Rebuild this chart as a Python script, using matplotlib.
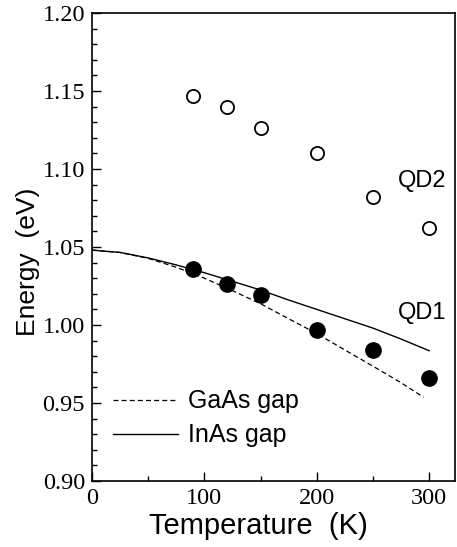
import matplotlib
matplotlib.use("Agg")
import matplotlib.pyplot as plt
from matplotlib.ticker import MultipleLocator, FormatStrFormatter

# Data
T_qd = [90, 120, 150, 200, 250, 300]
E_qd2 = [1.147, 1.140, 1.126, 1.110, 1.082, 1.062]
E_qd1 = [1.036, 1.026, 1.019, 0.997, 0.984, 0.966]

T_inas = [0, 25, 50, 75, 100, 125, 150, 175, 200, 225, 250, 275, 300]
E_inas = [1.048, 1.0465, 1.043, 1.0385, 1.0335, 1.028, 1.0224, 1.016, 1.010, 1.004, 0.998, 0.991, 0.9835]
T_gaas = [0, 25, 50, 75, 100, 125, 150, 175, 200, 225, 250, 275, 295]
E_gaas = [1.048, 1.0465, 1.0427, 1.0370, 1.030, 1.022, 1.0136, 1.004, 0.9945, 0.984, 0.9736, 0.963, 0.9537]

serif = "Liberation Serif"
sans = "Liberation Sans"

fig = plt.figure(figsize=(4.57, 5.47), dpi=100)
ax = fig.add_axes([92/457, 1-481/547, (455-92)/457, (481-13)/547])

ax.plot(T_gaas, E_gaas, color="black", lw=0.9, linestyle=(0, (4, 2.5)), label="GaAs gap")
ax.plot(T_inas, E_inas, color="black", lw=1.0, label="InAs gap")
ax.plot(T_qd, E_qd2, linestyle="none", marker="o", ms=9.5, mfc="white", mec="black", mew=1.3)
ax.plot(T_qd, E_qd1, linestyle="none", marker="o", ms=11, mfc="black", mec="black")

ax.set_xlim(0, 323)
ax.set_ylim(0.90, 1.20)
ax.xaxis.set_major_locator(MultipleLocator(100))
ax.xaxis.set_minor_locator(MultipleLocator(50))
ax.yaxis.set_major_locator(MultipleLocator(0.05))
ax.yaxis.set_minor_locator(MultipleLocator(0.01))
ax.yaxis.set_major_formatter(FormatStrFormatter("%.2f"))
ax.tick_params(which="both", direction="in", top=False, right=False, width=1)
ax.tick_params(which="major", length=6.5, labelsize=17.5, pad=5)
ax.tick_params(which="minor", length=3.5)
for s in ax.spines.values():
    s.set_linewidth(1.2)

ax.set_xlabel("Temperature  (K)", fontsize=21, family=sans)
ax.set_ylabel("Energy  (eV)", fontsize=19, family=sans)
ax.xaxis.set_label_coords(0.457, -0.066)
ax.yaxis.set_label_coords(-0.143, 0.468)

ax.text(0.842, 0.64, "QD2", transform=ax.transAxes, fontsize=17, family=sans, va="center", ha="left")
ax.text(0.842, 0.36, "QD1", transform=ax.transAxes, fontsize=17, family=sans, va="center", ha="left")

leg = ax.legend(loc="lower left", bbox_to_anchor=(-0.005, 0.024), frameon=False,
                handlelength=2.6, handletextpad=0.4, labelspacing=0.4,
                prop={"family": sans, "size": 18})

fig.canvas.draw()
for lab in ax.get_xticklabels() + ax.get_yticklabels():
    lab.set_fontfamily(serif)

fig.savefig("out.png", dpi=100)
